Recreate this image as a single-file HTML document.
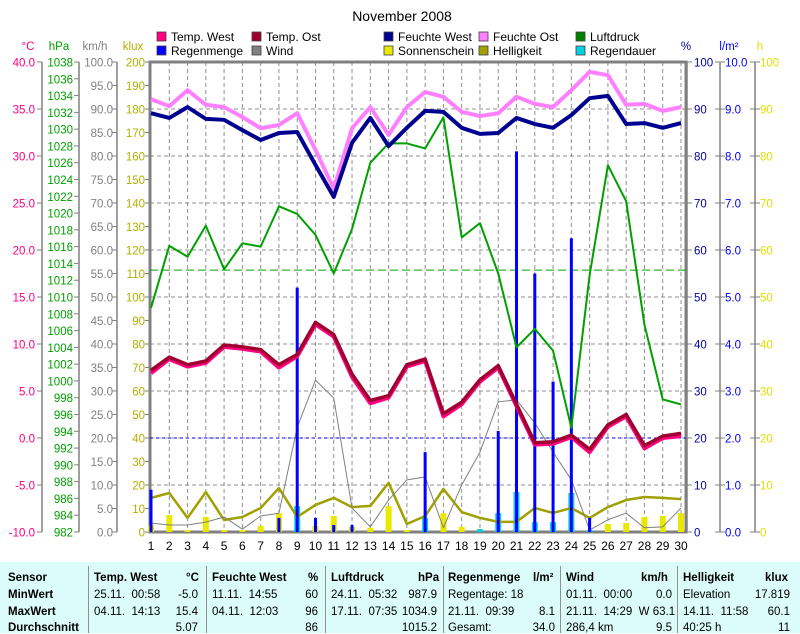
<!DOCTYPE html>
<html><head><meta charset="utf-8">
<style>
body{margin:0;background:#fff;width:800px;height:633px;overflow:hidden;font-family:"Liberation Sans",sans-serif}
svg{display:block}
#tbl{position:absolute;left:0;top:562px;width:800px;height:71px;background:#dcfcfc;font-size:11.5px;}
#tbl div{position:absolute;white-space:nowrap}
.b{font-weight:bold}
.sep{position:absolute;top:4px;width:1px;height:67px;background:#909090}
</style></head><body>
<svg id="c" width="800" height="562" xmlns="http://www.w3.org/2000/svg" font-family="Liberation Sans, sans-serif">
<text x="402" y="21" font-size="14" text-anchor="middle">November 2008</text>
<g id="legend"></g>
<g id="grid"></g>
<g id="axes"></g>
<g id="marks"></g>
</svg>
<div id="tbl">
<div class="b" style="left:8px;top:10px">Sensor</div>
<div class="b" style="left:8px;top:27px">MinWert</div>
<div class="b" style="left:8px;top:44px">MaxWert</div>
<div class="b" style="left:8px;top:60px">Durchschnitt</div>
<span class="sep" style="left:88px"></span><span class="sep" style="left:206px"></span><span class="sep" style="left:325px"></span><span class="sep" style="left:443px"></span><span class="sep" style="left:560px"></span><span class="sep" style="left:677px"></span>
<div class="b" style="left:94px;top:10px">Temp. West</div><div class="b" style="left:186px;top:10px">°C</div>
<div style="left:94px;top:27px">25.11.&nbsp; 00:58</div><div style="right:602px;top:27px">-5.0</div>
<div style="left:94px;top:44px">04.11.&nbsp; 14:13</div><div style="right:602px;top:44px">15.4</div>
<div style="right:602px;top:60px">5.07</div>
<div class="b" style="left:212px;top:10px">Feuchte West</div><div class="b" style="left:308px;top:10px">%</div>
<div style="left:212px;top:27px">11.11.&nbsp; 14:55</div><div style="right:482px;top:27px">60</div>
<div style="left:212px;top:44px">04.11.&nbsp; 12:03</div><div style="right:482px;top:44px">96</div>
<div style="right:482px;top:60px">86</div>
<div class="b" style="left:331px;top:10px">Luftdruck</div><div class="b" style="left:418px;top:10px">hPa</div>
<div style="left:331px;top:27px">24.11.&nbsp; 05:32</div><div style="right:363px;top:27px">987.9</div>
<div style="left:331px;top:44px">17.11.&nbsp; 07:35</div><div style="right:363px;top:44px">1034.9</div>
<div style="right:363px;top:60px">1015.2</div>
<div class="b" style="left:448px;top:10px">Regenmenge</div><div class="b" style="left:533px;top:10px">l/m²</div>
<div style="left:448px;top:27px">Regentage: 18</div>
<div style="left:448px;top:44px">21.11.&nbsp; 09:39</div><div style="right:245px;top:44px">8.1</div>
<div style="left:448px;top:60px">Gesamt:</div><div style="right:245px;top:60px">34.0</div>
<div class="b" style="left:566px;top:10px">Wind</div><div class="b" style="left:641px;top:10px">km/h</div>
<div style="left:566px;top:27px">01.11.&nbsp; 00:00</div><div style="right:128px;top:27px">0.0</div>
<div style="left:566px;top:44px">21.11.&nbsp; 14:29&nbsp; W 63.1</div>
<div style="left:566px;top:60px">286,4 km</div><div style="right:128px;top:60px">9.5</div>
<div class="b" style="left:683px;top:10px">Helligkeit</div><div class="b" style="left:765px;top:10px">klux</div>
<div style="left:683px;top:27px">Elevation</div><div style="right:10px;top:27px">17.819</div>
<div style="left:683px;top:44px">14.11.&nbsp; 11:58</div><div style="right:10px;top:44px">60.1</div>
<div style="left:683px;top:60px">40:25 h</div><div style="right:10px;top:60px">11</div>
</div>
<script>
const days=[1,2,3,4,5,6,7,8,9,10,11,12,13,14,15,16,17,18,19,20,21,22,23,24,25,26,27,28,29,30];
const tempWest=[7.0,8.5,7.7,8.1,9.8,9.6,9.3,7.6,8.8,12.2,10.9,6.6,3.8,4.4,7.7,8.3,2.4,3.7,6.1,7.6,3.5,-0.6,-0.5,0.2,-1.4,1.3,2.4,-1.0,0.1,0.3];
const tempOst=[7.2,8.6,7.8,8.2,9.9,9.7,9.4,7.8,8.9,12.3,11.0,6.8,4.0,4.5,7.8,8.4,2.6,3.8,6.2,7.7,3.6,-0.5,-0.4,0.3,-1.2,1.4,2.5,-0.8,0.2,0.5];
const humWest=[89.1,88.1,90.4,87.9,87.7,85.5,83.4,84.9,85.1,78.1,71.3,82.8,88.1,82.1,86.0,89.6,89.4,86.0,84.7,84.9,88.1,86.8,86.0,88.7,92.3,92.8,86.8,87.0,86.0,87.0];
const humOst=[92.1,90.6,94.0,90.9,90.4,88.3,85.9,86.6,89.1,81.3,73.0,85.9,90.4,84.5,90.4,93.6,92.6,89.4,88.5,89.1,92.6,91.1,90.4,94.0,97.9,97.2,90.9,91.1,89.6,90.4];
const pressure=[1008.7,1016.1,1014.8,1018.5,1013.3,1016.4,1016.0,1020.8,1019.9,1017.4,1012.8,1018.1,1026.0,1028.3,1028.3,1027.7,1031.4,1017.1,1018.8,1012.8,1004.0,1006.2,1003.6,994.4,1012.6,1025.7,1021.4,1006.7,997.8,997.2];
const wind=[1.9,1.5,1.5,2.1,3.2,0.6,3.4,4.0,22.3,32.3,28.5,5.1,1.1,6.8,11.1,11.7,0.9,10.0,17.0,27.7,28.1,23.2,17.0,11.1,0.4,2.6,4.0,0.9,1.1,5.1];
const brightness=[14.5,16.6,6.0,17.0,5.1,6.4,10.2,18.7,6.4,11.5,14.5,10.6,11.1,20.9,3.4,6.8,18.3,8.5,6.0,4.3,4.3,10.2,8.1,10.2,6.0,10.6,13.6,14.9,14.5,14.0];
const sunshine=[1.5,3.6,0.4,3.2,0.4,0.4,1.3,4.0,0,1.3,3.4,1.1,0.9,5.5,0.4,0,4.0,1.1,0.6,0.3,0,0.5,0,1.5,0,1.7,1.9,3.2,3.4,4.0];
const rainDur=[0,0,0,0,0,0,0,0,5.5,0,0,0,0,0,0,3.0,0,0,0.6,4.0,8.5,2.1,2.1,8.3,0.4,0,0,0,0,0];
const rain=[0.9,0,0,0,0,0,0,0.3,5.2,0.3,0.15,0.15,0,0,0,1.7,0,0,0,2.15,8.1,5.5,3.2,6.25,0.3,0,0,0,0,0];
const pressureAvg=1013.2, humRef=20;

const NS="http://www.w3.org/2000/svg";
const L=150,R=686,T=62,B=532;
const x=d=>151+(d-1)*(681-151)/29;
const yT=v=>B-(v+10)*9.4, yH=v=>B-v*4.7, yP=v=>B-(v-982)*(470/56), yW=v=>B-v*4.7, yK=v=>B-v*2.35, yR=v=>B-v*47, yD=v=>B-v*4.7;
function el(p,tag,a,txt){const e=document.createElementNS(NS,tag);for(const k in a)e.setAttribute(k,a[k]);if(txt!==undefined)e.textContent=txt;p.appendChild(e);return e;}
const G=document.getElementById('grid'),A=document.getElementById('axes'),M=document.getElementById('marks'),LG=document.getElementById('legend');
for(const d of days){el(G,'line',{x1:x(d),x2:x(d),y1:T,y2:B,stroke:'#909090','stroke-dasharray':'4,3','stroke-width':1});}
for(let p=10;p<100;p+=10){el(G,'line',{x1:L,x2:R,y1:yH(p),y2:yH(p),stroke:'#909090','stroke-dasharray':'4,3','stroke-width':1});}
el(G,'rect',{x:L,y:T,width:R-L,height:B-T,fill:'none',stroke:'#808080','stroke-width':3});
for(const d of days){const t=el(A,'text',{x:x(d),y:550,'font-size':12,'text-anchor':'middle'},String(d));

}
function axis(lx,ax,vals,fy,fmt,color,tx,unit){
 el(A,'line',{x1:ax,x2:ax,y1:T,y2:B,stroke:'#808080','stroke-width':1.5});
 for(const v of vals){const y=fy(v);el(A,'line',{x1:ax-5,x2:ax+(lx<ax?0:5),y1:y,y2:y,stroke:'#808080'});
  el(A,'text',{x:lx,y:y+4.5,'font-size':11.5,fill:color,'text-anchor':lx<ax?'end':'start'},fmt(v));}
 const u=el(A,'text',{x:tx,y:50,'font-size':11.5,fill:color,'text-anchor':'middle'},unit);
 
 
}
const r=(a,b,s)=>{const o=[];for(let v=a;v<=b+1e-9;v+=s)o.push(+v.toFixed(2));return o;};
axis(35,42,r(-10,40,5),yT,v=>v.toFixed(1),'#ff0080',28,'°C');
axis(73,79,r(982,1038,2),yP,v=>String(v),'#00a000',59,'hPa');
axis(113,117,r(0,100,5),yW,v=>v.toFixed(1),'#808080',95,'km/h');
axis(145,150,r(0,200,10),yK,v=>String(v),'#b0b000',133,'klux');
axis(694,687,r(0,100,10),yH,v=>String(v),'#0000a0',686,'%');
axis(725,720,r(0,10,1),yR,v=>v.toFixed(1),'#0000ff',729,'l/m²');
axis(760,755,r(0,100,10),yD,v=>String(v),'#e0e000',760,'h');
el(M,'line',{x1:L,x2:R,y1:yP(pressureAvg),y2:yP(pressureAvg),stroke:'#00a000','stroke-dasharray':'8,4','stroke-width':1});
el(M,'line',{x1:L,x2:R,y1:yH(humRef),y2:yH(humRef),stroke:'#0000ff','stroke-dasharray':'3,3','stroke-width':1});
days.forEach((d,i)=>{
 if(sunshine[i]>0){const b=el(M,'rect',{x:x(d)-3,y:yD(sunshine[i]),width:6,height:B-yD(sunshine[i]),fill:'#e8e800'});
 
 }
 if(rainDur[i]>0){const b=el(M,'rect',{x:x(d)-3,y:yD(rainDur[i]),width:6,height:B-yD(rainDur[i]),fill:'#00d0e0'});
 
 }
});
function line(arr,fy,color,w,name,dy){const pts=days.map((d,i)=>x(d)+','+(fy(arr[i])+(dy||0))).join(' ');
 const p=el(M,'polyline',{points:pts,fill:'none',stroke:color,'stroke-width':w,'stroke-linejoin':'round'});
 
 }
line(brightness,yK,'#a0a000',2.5,'brightness-line');
line(wind,yW,'#808080',1,'wind-line');
days.forEach((d,i)=>{if(rain[i]>0){const b=el(M,'rect',{x:x(d)-1.5,y:yR(rain[i]),width:3,height:B-yR(rain[i]),fill:'#0000ff'});
 
 }});
line(pressure,yP,'#00a000',2,'pressure-line');
line(humOst,yH,'#ff80ff',4,'humidity-east-line');
line(humWest,yH,'#000090',4,'humidity-west-line');
line(tempWest,yT,'#ff0080',4,'temp-west-line',1);
line(tempOst,yT,'#a00030',3.5,'temp-east-line');
const leg=[['Temp. West','#ff0080',161,37],['Temp. Ost','#a00030',256,37],['Feuchte West','#000090',388,37],['Feuchte Ost','#ff80ff',483,37],['Luftdruck','#008000',580,37],
['Regenmenge','#0000ff',161,51],['Wind','#808080',256,51],['Sonnenschein','#e8e800',388,51],['Helligkeit','#a0a000',483,51],['Regendauer','#00d0e0',580,51]];
for(const [n,c,lx,ly] of leg){const g=el(LG,'g',{});
 
 
 el(g,'rect',{x:lx-4,y:ly-5,width:9,height:9,fill:c,stroke:'#404040','stroke-width':0.8});
 el(g,'text',{x:lx+10,y:ly+4,'font-size':12},n);}
</script>
</body></html>
